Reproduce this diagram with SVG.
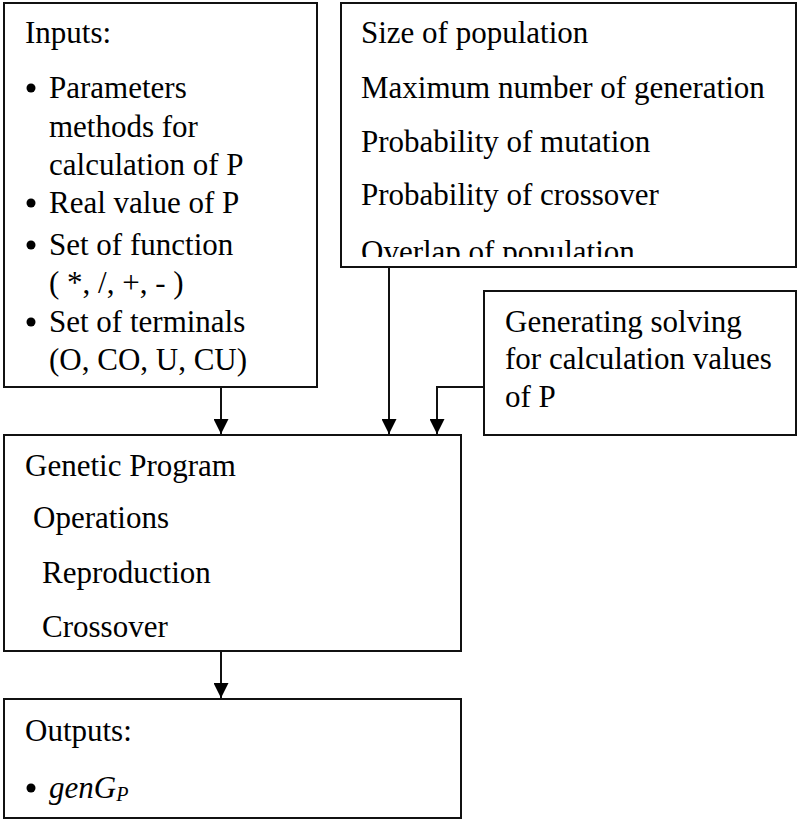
<svg xmlns="http://www.w3.org/2000/svg" width="797" height="820" viewBox="0 0 797 820">
<style>
.box{fill:#fff;stroke:#111;stroke-width:2}
.b{fill:#000}
.c{fill:none;stroke:#111;stroke-width:2}
</style>
<defs>
<marker id="ah" markerWidth="15" markerHeight="15" viewBox="0 0 15 15" refX="15" refY="7.5" orient="auto" markerUnits="userSpaceOnUse">
<path d="M0,0 L15,7.5 L0,15 Z" fill="#000"/>
</marker>
<clipPath id="clipTop"><rect x="341" y="0" width="456" height="257"/></clipPath>
</defs>
<g id="inputs">
<rect class="box" x="4" y="3" width="313" height="384"/>
<text font-family="Liberation Serif" font-size="31" x="25" y="43">Inputs:</text>
<circle class="b" cx="31" cy="88" r="4.5"/>
<text font-family="Liberation Serif" font-size="31" x="49" y="98">Parameters</text>
<text font-family="Liberation Serif" font-size="31" x="49" y="137">methods for</text>
<text font-family="Liberation Serif" font-size="31" x="49" y="175">calculation of P</text>
<circle class="b" cx="31" cy="203" r="4.5"/>
<text font-family="Liberation Serif" font-size="31" x="49" y="213">Real value of P</text>
<circle class="b" cx="31" cy="245" r="4.5"/>
<text font-family="Liberation Serif" font-size="31" x="49" y="255">Set of function</text>
<text font-family="Liberation Serif" font-size="31" x="49" y="293">( *, /, +, - )</text>
<circle class="b" cx="31" cy="322" r="4.5"/>
<text font-family="Liberation Serif" font-size="31" x="49" y="332">Set of terminals</text>
<text font-family="Liberation Serif" font-size="31" x="49" y="370">(O, CO, U, CU)</text>
</g>
<g id="parameters">
<rect class="box" x="341" y="3" width="455" height="264"/>
<g clip-path="url(#clipTop)">
<text font-family="Liberation Serif" font-size="31" x="361" y="43">Size of population</text>
<text font-family="Liberation Serif" font-size="31" x="361" y="98">Maximum number of generation</text>
<text font-family="Liberation Serif" font-size="31" x="361" y="152">Probability of mutation</text>
<text font-family="Liberation Serif" font-size="31" x="361" y="205">Probability of crossover</text>
<text font-family="Liberation Serif" font-size="31" x="361" y="262">Overlap of population</text>
</g>
</g>
<g id="generating">
<rect class="box" x="484" y="291" width="312" height="144"/>
<text font-family="Liberation Serif" font-size="31" x="505" y="332">Generating solving</text>
<text font-family="Liberation Serif" font-size="31" x="505" y="369">for calculation values</text>
<text font-family="Liberation Serif" font-size="31" x="505" y="407">of P</text>
</g>
<g id="genetic">
<rect class="box" x="4" y="435" width="457" height="216"/>
<text font-family="Liberation Serif" font-size="31" x="25" y="476">Genetic Program</text>
<text font-family="Liberation Serif" font-size="31" x="33" y="528">Operations</text>
<text font-family="Liberation Serif" font-size="31" x="42" y="583">Reproduction</text>
<text font-family="Liberation Serif" font-size="31" x="42" y="637">Crossover</text>
</g>
<g id="outputs">
<rect class="box" x="4" y="699" width="457" height="119"/>
<text font-family="Liberation Serif" font-size="31" x="25" y="741">Outputs:</text>
<circle class="b" cx="31" cy="788" r="4.5"/>
<text font-family="Liberation Serif" font-size="31" x="49" y="798" font-style="italic">genG<tspan font-size="20" dy="3">P</tspan></text>
</g>
<g id="connectors">
<line class="c" x1="221" y1="387" x2="221" y2="434" marker-end="url(#ah)"/>
<line class="c" x1="389" y1="267" x2="389" y2="434" marker-end="url(#ah)"/>
<polyline class="c" points="484,387 437,387 437,434" marker-end="url(#ah)"/>
<line class="c" x1="221" y1="651" x2="221" y2="698" marker-end="url(#ah)"/>
</g>
</svg>
